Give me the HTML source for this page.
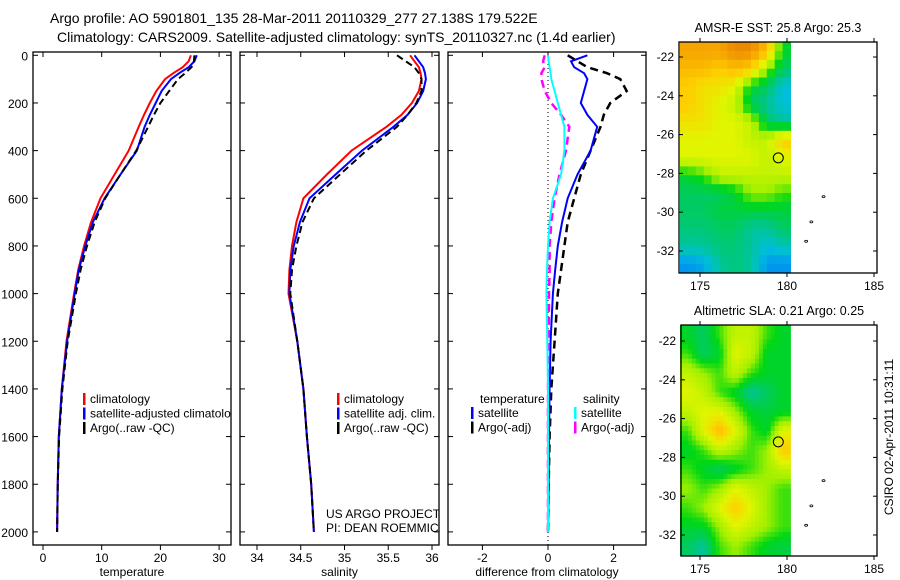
<!DOCTYPE html>
<html><head><meta charset="utf-8"><style>
body{margin:0;background:#fff;}
svg{display:block;font-family:"Liberation Sans",sans-serif;}
</style></head><body>
<svg id="fig" width="900" height="580" viewBox="0 0 900 580">
<text x="50" y="23" font-size="14">Argo profile: AO 5901801_135 28-Mar-2011 20110329_277 27.138S 179.522E</text>
<text x="57" y="42" font-size="14">Climatology: CARS2009. Satellite-adjusted climatology: synTS_20110327.nc (1.4d earlier)</text>
<g id="plots"></g>
<text transform="translate(893,437) rotate(-90)" text-anchor="middle" font-size="12">CSIRO 02-Apr-2011 10:31:11</text>
</svg>
<script>
const depths=[0,25,50,75,100,150,200,250,300,400,500,600,700,800,900,1000,1200,1400,1600,1800,2000];
const tempClim=[25.2,24.8,23.8,22.2,20.8,19.3,18.2,17.2,16.3,14.6,12.2,9.8,8.2,7,6,5.3,4,3.2,2.7,2.5,2.4];
const tempSat=[26.2,25.8,24.8,23.2,21.8,20.2,19.2,18.2,17.3,16,13.2,10.5,8.5,7.2,6.1,5.4,4.1,3.2,2.7,2.5,2.4];
const tempArgo=[25.8,25.7,25.3,24.2,23.0,21.5,20.0,18.9,17.9,15.9,13.2,10.6,8.8,7.5,6.4,5.6,4.2,3.3,2.75,2.52,2.4];
const salClim=[35.75,35.8,35.85,35.87,35.88,35.85,35.77,35.65,35.48,35.08,34.8,34.53,34.45,34.4,34.37,34.36,34.46,34.53,34.57,34.62,34.65];
const salSat=[35.8,35.85,35.9,35.92,35.93,35.9,35.83,35.72,35.56,35.2,34.9,34.6,34.49,34.42,34.38,34.37,34.46,34.53,34.57,34.62,34.65];
const salArgo=[35.6,35.7,35.8,35.85,35.88,35.88,35.82,35.72,35.6,35.25,34.95,34.65,34.52,34.45,34.4,34.38,34.46,34.53,34.57,34.62,34.65];
const dTempSat=[1.2,0.7,0.8,1.1,1.2,1.1,1.0,1.2,1.5,1.3,0.9,0.6,0.43,0.3,0.22,0.15,0.08,0.05,0.03,0.02,0.0];
const dTempArgo=[0.6,0.9,1.2,1.8,2.2,2.4,1.9,1.7,1.6,1.3,1.0,0.8,0.6,0.5,0.4,0.3,0.2,0.1,0.05,0.02,0];
const dSalSat=[0,0.02,0.05,0.08,0.1,0.2,0.3,0.4,0.5,0.5,0.4,0.15,0.05,0,-0.03,-0.05,-0.02,0,0,0,0];
const dSalArgo=[-0.1,-0.15,-0.1,-0.2,-0.2,-0.1,0.1,0.4,0.65,0.55,0.35,0.2,0.1,0.05,0.05,0.03,0.02,0,0,0,0];
const depthTicks=[0,200,400,600,800,1000,1200,1400,1600,1800,2000];
const tempTicks=[0,10,20,30];
const salTicks=[34,34.5,35,35.5,36];
const diffTicks=[-2,0,2];
const sstGrid=[
[.8,.8,.8,.85,.85,.75,.4],
[.75,.75,.7,.75,.7,.5,.35],
[.7,.65,.65,.6,.4,.35,.25],
[.7,.65,.6,.55,.35,.3,.25],
[.65,.65,.6,.6,.55,.35,.3],
[.6,.6,.6,.6,.55,.55,.7],
[.6,.6,.6,.6,.6,.55,.6],
[.4,.45,.55,.55,.55,.55,.55],
[.35,.35,.35,.4,.5,.5,.45],
[.35,.35,.38,.38,.38,.38,.38],
[.33,.33,.35,.35,.3,.3,.35],
[.3,.3,.33,.33,.3,.25,.28],
[.2,.22,.3,.33,.3,.2,.2]];
const slaGrid=[
[.4,.35,.45,.55,.55,.45,.4],
[.45,.35,.4,.6,.55,.4,.4],
[.55,.5,.45,.55,.45,.4,.4],
[.6,.55,.45,.4,.3,.35,.4],
[.55,.6,.6,.5,.4,.38,.4],
[.45,.6,.75,.6,.45,.4,.6],
[.4,.45,.55,.5,.45,.5,.7],
[.45,.4,.35,.4,.45,.5,.55],
[.5,.45,.5,.6,.55,.5,.45],
[.45,.5,.6,.7,.6,.5,.45],
[.4,.4,.5,.6,.55,.5,.45],
[.35,.3,.45,.5,.45,.4,.38]];
const latTicks=[-22,-24,-26,-28,-30,-32];
const lonTicks=[175,180,185];

const NS='http://www.w3.org/2000/svg';
const root=document.getElementById('plots');
function mk(tag,attrs,parent){const e=document.createElementNS(NS,tag);for(const k in attrs)e.setAttribute(k,attrs[k]);(parent||root).appendChild(e);return e;}
const yD=d=>55.3+d*0.2383;
const TOP=52,BOT=545;

function panel(name,x0,x1,xf,ticks,xlabel,showY){
  const g=mk('g',{});
  
  
  const clip=mk('clipPath',{id:'clip-'+name},g);
  mk('rect',{x:x0,y:TOP,width:x1-x0,height:BOT-TOP},clip);
  const r=mk('rect',{x:x0,y:TOP,width:x1-x0,height:BOT-TOP,fill:'none',stroke:'#000','stroke-width':1.3},g);
  
  
  depthTicks.forEach(d=>{
    const y=yD(d);
    mk('line',{x1:x0,x2:x0+5,y1:y,y2:y,stroke:'#000'},g);
    mk('line',{x1:x1-5,x2:x1,y1:y,y2:y,stroke:'#000'},g);
    if(showY){const t=mk('text',{x:x0-5,y:y+5,'text-anchor':'end','font-size':12},g);t.textContent=d;
      
      }
  });
  ticks.forEach(v=>{
    const x=xf(v);
    mk('line',{x1:x,x2:x,y1:BOT,y2:BOT+5,stroke:'#000'},g);
    mk('line',{x1:x,x2:x,y1:TOP,y2:TOP+5,stroke:'#000'},g);
    const t=mk('text',{x:x,y:BOT+17,'text-anchor':'middle','font-size':12},g);t.textContent=v;
    
    
  });
  const xl=mk('text',{x:(x0+x1)/2,y:576,'text-anchor':'middle','font-size':12},g);xl.textContent=xlabel;
  
  
  const inner=mk('g',{'clip-path':'url(#clip-'+name+')'},g);
  return inner;
}
function series(g,vals,xf,color,dash,name,w){
  const pts=vals.map((v,i)=>xf(v).toFixed(1)+','+yD(depths[i]).toFixed(1)).join(' ');
  const p=mk('polyline',{points:pts,fill:'none',stroke:color,'stroke-width':w||2,'stroke-dasharray':dash||'none'},g);
  
  
}
function legend(g,x,y,items){
  items.forEach((it,i)=>{
    const yy=y+i*14.5;
    mk('rect',{x:x,y:yy-10,width:2.5,height:12,fill:it[1]},g);
    const t=mk('text',{x:x+7,y:yy,'font-size':12},g);t.textContent=it[0];
    
    
  });
}
const xT=v=>43+v*5.87;
let g1=panel('temperature-panel',33,231,xT,tempTicks,'temperature',true);
series(g1,tempClim,xT,'#f00',null,'temp-climatology-line');
series(g1,tempSat,xT,'#00f',null,'temp-satellite-line');
series(g1,tempArgo,xT,'#000','7,4','temp-argo-line');
legend(g1,83,403,[['climatology','#f00'],['satellite-adjusted climatology','#00f'],['Argo(..raw -QC)','#000']]);
const xS=v=>257+(v-34)*87.5;
let g2=panel('salinity-panel',240,439,xS,salTicks,'salinity',false);
series(g2,salClim,xS,'#f00',null,'sal-climatology-line');
series(g2,salSat,xS,'#00f',null,'sal-satellite-line');
series(g2,salArgo,xS,'#000','7,4','sal-argo-line');
legend(g2,337,403,[['climatology','#f00'],['satellite adj. clim.','#00f'],['Argo(..raw -QC)','#000']]);
let c1=mk('text',{x:326,y:518,'font-size':12},g2);c1.textContent='US ARGO PROJECT';


let c2=mk('text',{x:326,y:532,'font-size':12},g2);c2.textContent='PI: DEAN ROEMMICH';


const xDf=v=>548+v*32.8;
let g3=panel('difference-panel',448,646,xDf,diffTicks,'difference from climatology',false);
mk('line',{x1:xDf(0),x2:xDf(0),y1:TOP,y2:BOT,stroke:'#000','stroke-dasharray':'1,3'},g3);
series(g3,dTempArgo,xDf,'#000','8,5','diff-temp-argo-line',2.5);
series(g3,dTempSat,xDf,'#00f',null,'diff-temp-satellite-line');
series(g3,dSalArgo,xDf,'#f0f','8,5','diff-sal-argo-line',2.5);
series(g3,dSalSat,xDf,'#0ff',null,'diff-sal-satellite-line');
let lt=mk('text',{x:480,y:403,'font-size':12},g3);lt.textContent='temperature';


legend(g3,471,417,[['satellite','#00f'],['Argo(-adj)','#000']]);
let ls=mk('text',{x:583,y:403,'font-size':12},g3);ls.textContent='salinity';


legend(g3,574,417,[['satellite','#0ff'],['Argo(-adj)','#f0f']]);

const cmapStops=[[0.15,[0,110,255]],[0.25,[0,190,220]],[0.33,[0,200,120]],[0.42,[0,215,20]],[0.5,[160,240,0]],[0.6,[225,245,0]],[0.7,[255,205,0]],[0.8,[245,165,0]],[0.9,[225,110,0]]];
function cmap(v){
  if(v<=cmapStops[0][0])return 'rgb('+cmapStops[0][1]+')';
  for(let i=1;i<cmapStops.length;i++){
    if(v<=cmapStops[i][0]){const a=cmapStops[i-1],b=cmapStops[i];const t=(v-a[0])/(b[0]-a[0]);
      return 'rgb('+a[1].map((c,k)=>Math.round(c+(b[1][k]-c)*t)).join(',')+')';}
  }
  return 'rgb('+cmapStops[cmapStops.length-1][1]+')';
}
function sampleGrid(grid,fr,fc){
  const nr=grid.length,nc=grid[0].length;
  const r=Math.min(Math.max(fr,0),nr-1),c=Math.min(Math.max(fc,0),nc-1);
  const r0=Math.floor(r),c0=Math.floor(c),r1=Math.min(r0+1,nr-1),c1=Math.min(c0+1,nc-1);
  const tr=r-r0,tc=c-c0;
  return grid[r0][c0]*(1-tr)*(1-tc)+grid[r0][c1]*(1-tr)*tc+grid[r1][c0]*tr*(1-tc)+grid[r1][c1]*tr*tc;
}
function mapPanel(name,x0,x1,y0,y1,lat22y,grid,title,up){
  const g=mk('g',{});
  
  
  const lonX=lon=>700+(lon-175)*17.4;
  const latY=lat=>lat22y+(-22-lat)*19.4;
  const latTop=-22+(lat22y-y0)/19.4, latBot=-22-(y1-lat22y)/19.4;
  const lonL=173.85, lonR=180.2;
  const nr=grid.length*up,nc=grid[0].length*up;
  const dLat=(latTop-latBot)/nr,dLon=(lonR-lonL)/nc;
  for(let r=0;r<nr;r++)for(let c=0;c<nc;c++){
    const v=up===1?grid[r][c]:sampleGrid(grid,(r+0.5)/up-0.5,(c+0.5)/up-0.5);
    const xa=lonX(lonL+c*dLon),xb=lonX(lonL+(c+1)*dLon);
    const ya=latY(latTop-r*dLat),yb=latY(latTop-(r+1)*dLat);
    const cell=mk('rect',{x:xa.toFixed(1),y:ya.toFixed(1),width:(xb-xa+0.5).toFixed(1),height:(yb-ya+0.5).toFixed(1),fill:cmap(v)},g);
    
    
  }
  [[182.1,-29.2],[181.4,-30.5],[181.1,-31.5]].forEach(p=>mk('ellipse',{cx:lonX(p[0]),cy:latY(p[1]),rx:1.5,ry:1,fill:'none',stroke:'#000','stroke-width':0.8},g));
  const m=mk('circle',{cx:lonX(179.5),cy:latY(-27.2),r:5,fill:'none',stroke:'#000','stroke-width':1},g);
  
  
  mk('rect',{x:x0,y:y0,width:x1-x0,height:y1-y0,fill:'none',stroke:'#000','stroke-width':1.3},g);
  latTicks.forEach(l=>{const y=latY(l);
    mk('line',{x1:x0,x2:x0+4,y1:y,y2:y,stroke:'#000'},g);mk('line',{x1:x1-4,x2:x1,y1:y,y2:y,stroke:'#000'},g);
    const t=mk('text',{x:x0-5,y:y+4,'text-anchor':'end','font-size':12},g);t.textContent=l;
    
    });
  lonTicks.forEach(l=>{const x=lonX(l);
    mk('line',{x1:x,x2:x,y1:y1,y2:y1+4,stroke:'#000'},g);mk('line',{x1:x,x2:x,y1:y0,y2:y0-4,stroke:'#000'},g);
    const t=mk('text',{x:x,y:y1+17,'text-anchor':'middle','font-size':12},g);t.textContent=l;
    
    });
  const tt=mk('text',{x:(x0+x1)/2,y:y0-10,'text-anchor':'middle','font-size':12.5},g);tt.textContent=title;
  
  
}
mapPanel('sst-map',679,877,42,273,57,sstGrid,'AMSR-E SST: 25.8 Argo: 25.3',2);
mapPanel('sla-map',681,877,325,556,341,slaGrid,'Altimetric SLA: 0.21 Argo: 0.25',4);
</script>
</body></html>
